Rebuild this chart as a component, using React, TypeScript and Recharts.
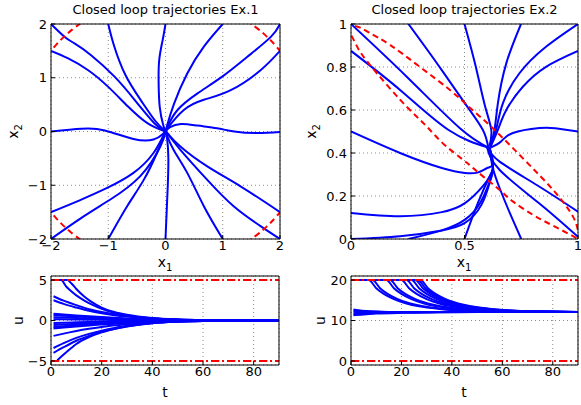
import React from 'react';
import { LineChart, Line, XAxis, YAxis, CartesianGrid, ReferenceLine } from 'recharts';

const W = 581;
const H = 405;
const FONT = '"DejaVu Sans", "Liberation Sans", Arial, sans-serif';
const BLUE = '#0000ff';
const RED = '#ff0000';

type Pt = [number, number];

// ---- Ex.1 phase plane (x1, x2) ----
const ex1A: Pt[] = [[-2, 2], [-1.76, 1.76], [-1.59, 1.64], [-1.3, 1.42], [-0.89, 1.02], [-0.54, 0.59], [-0.19, 0.15], [0, 0]];
const ex1B: Pt[] = [[-2, 1.5], [-1.7, 1.36], [-1.35, 1.14], [-1.0, 0.83], [-0.65, 0.46], [-0.31, 0.15], [0, 0]];
const ex1C: Pt[] = [[-1, 2], [-0.9, 1.6], [-0.7, 1.05], [-0.43, 0.58], [-0.18, 0.2], [0, 0]];
const ex1D: Pt[] = [[0, 2], [-0.05, 1.7], [-0.11, 1.33], [-0.12, 0.9], [-0.1, 0.45], [-0.04, 0.12], [0, 0]];
const ex1E: Pt[] = [[1, 2], [0.67, 1.58], [0.38, 1.08], [0.15, 0.52], [0.03, 0.12], [0, 0]];
const ex1F: Pt[] = [[2, 2], [1.84, 1.76], [1.43, 1.39], [0.99, 1.02], [0.56, 0.71], [0.21, 0.4], [0.04, 0.1], [0, 0]];
const ex1G: Pt[] = [[2, 1.5], [1.66, 1.14], [1.14, 0.77], [0.67, 0.59], [0.32, 0.4], [0.05, 0.08], [0, 0]];
const ex1H: Pt[] = [[2, -0.01], [1.6, -0.03], [1.2, 0.0], [0.9, 0.06], [0.56, 0.11], [0.27, 0.14], [0.08, 0.08], [0, 0]];
const ex1I: Pt[] = [[-2, 0.0], [-1.47, 0.05], [-1.06, 0.02], [-0.56, -0.14], [-0.21, -0.15], [-0.05, -0.05], [0, 0]];
const ex1J: Pt[] = [[2, -2], [1.66, -1.76], [1.19, -1.39], [0.73, -0.9], [0.26, -0.34], [0.05, -0.06], [0, 0]];
const ex1K: Pt[] = [[2, -1.5], [1.31, -1.02], [0.73, -0.65], [0.26, -0.28], [0.05, -0.05], [0, 0]];
const ex1L: Pt[] = [[1, -2], [0.67, -1.39], [0.38, -0.77], [0.14, -0.34], [0.02, -0.06], [0, 0]];
const ex1M: Pt[] = [[0, -2], [0.02, -1.5], [0.04, -1.0], [0.05, -0.5], [0.03, -0.15], [0, 0]];
const ex1N: Pt[] = [[-1, -2], [-0.67, -1.39], [-0.38, -0.9], [-0.15, -0.4], [-0.03, -0.08], [0, 0]];
const ex1O: Pt[] = [[-2, -2], [-1.43, -1.58], [-0.97, -1.27], [-0.44, -0.83], [-0.09, -0.28], [0, 0]];
const ex1P: Pt[] = [[-2, -1.5], [-1.5, -1.28], [-1.02, -1.05], [-0.56, -0.77], [-0.21, -0.4], [-0.03, -0.06], [0, 0]];
const ex1Traj = [ex1A, ex1B, ex1C, ex1D, ex1E, ex1F, ex1G, ex1H, ex1I, ex1J, ex1K, ex1L, ex1M, ex1N, ex1O, ex1P];

// constraint circle, only the corners show
const ex1ArcTL: Pt[] = [[-2.06, 1.42], [-2, 1.5], [-1.9, 1.625], [-1.77, 1.765], [-1.625, 1.9], [-1.5, 2], [-1.42, 2.06]];
const ex1ArcTR: Pt[] = [[1.42, 2.06], [1.5, 2], [1.625, 1.9], [1.77, 1.765], [1.9, 1.625], [2, 1.5], [2.06, 1.42]];
const ex1ArcBL: Pt[] = [[-2.06, -1.42], [-2, -1.5], [-1.9, -1.625], [-1.77, -1.765], [-1.625, -1.9], [-1.5, -2], [-1.42, -2.06]];
const ex1ArcBR: Pt[] = [[1.42, -2.06], [1.5, -2], [1.625, -1.9], [1.77, -1.765], [1.9, -1.625], [2, -1.5], [2.06, -1.42]];
const ex1Bound = [ex1ArcTL, ex1ArcTR, ex1ArcBL, ex1ArcBR];

// ---- Ex.2 phase plane ----
const ex2a: Pt[] = [[0, 1], [0.25, 0.75], [0.48, 0.515], [0.605, 0.425]];
const ex2b: Pt[] = [[0, 0.875], [0.22, 0.69], [0.43, 0.507], [0.605, 0.425]];
const ex2c: Pt[] = [[0.253, 1], [0.38, 0.815], [0.502, 0.631], [0.581, 0.507], [0.605, 0.425]];
const ex2d: Pt[] = [[0.5, 1], [0.55, 0.8], [0.59, 0.62], [0.618, 0.507], [0.61, 0.43]];
const ex2e: Pt[] = [[0.749, 1], [0.684, 0.817], [0.647, 0.631], [0.632, 0.507], [0.612, 0.43]];
const ex2f: Pt[] = [[1, 1], [0.859, 0.894], [0.742, 0.771], [0.669, 0.631], [0.639, 0.507], [0.614, 0.43]];
const ex2g: Pt[] = [[1, 0.875], [0.859, 0.801], [0.757, 0.708], [0.684, 0.6], [0.647, 0.507], [0.615, 0.43]];
const ex2h: Pt[] = [[1, 0.5], [0.9, 0.515], [0.83, 0.516], [0.713, 0.493], [0.661, 0.454], [0.615, 0.425]];
const ex2i: Pt[] = [[1, 0.127], [0.82, 0.25], [0.655, 0.36], [0.6, 0.425]];
const ex2j: Pt[] = [[1, 0.01], [0.83, 0.165], [0.655, 0.321], [0.6, 0.425]];
const ex2k: Pt[] = [[0.75, 0], [0.7, 0.12], [0.655, 0.236], [0.625, 0.33], [0.61, 0.425]];
const ex2l: Pt[] = [[0.5, 0], [0.56, 0.17], [0.615, 0.3], [0.625, 0.34], [0.61, 0.425]];
const ex2m: Pt[] = [[0.253, 0], [0.4, 0.04], [0.502, 0.09], [0.57, 0.17], [0.612, 0.27], [0.625, 0.33], [0.61, 0.425]];
const ex2n: Pt[] = [[0, 0], [0.216, 0.013], [0.4, 0.04], [0.502, 0.075], [0.575, 0.16], [0.613, 0.27], [0.625, 0.33], [0.61, 0.425]];
const ex2o: Pt[] = [[0, 0.121], [0.216, 0.106], [0.4, 0.125], [0.502, 0.167], [0.58, 0.245], [0.625, 0.33], [0.61, 0.425]];
const ex2p: Pt[] = [[0, 0.5], [0.216, 0.4], [0.4, 0.33], [0.502, 0.307], [0.56, 0.31], [0.6, 0.33], [0.625, 0.35], [0.61, 0.425]];
const ex2Traj = [ex2a, ex2b, ex2c, ex2d, ex2e, ex2f, ex2g, ex2h, ex2i, ex2j, ex2k, ex2l, ex2m, ex2n, ex2o, ex2p];

const ex2Ellipse: Pt[] = [
  [-0.02, 0.968], [0.02, 0.99], [0.08, 0.96], [0.173, 0.902], [0.304, 0.8], [0.436, 0.693], [0.53, 0.605],
  [0.625, 0.515], [0.765, 0.367], [0.897, 0.22], [0.978, 0.104], [1.0, 0.04], [1.01, 0.0], [0.98, 0.012],
  [0.89, 0.062], [0.802, 0.112], [0.714, 0.174], [0.655, 0.228], [0.583, 0.29], [0.539, 0.329], [0.493, 0.369],
  [0.41, 0.44], [0.341, 0.515], [0.29, 0.569], [0.217, 0.647], [0.114, 0.771], [0.04, 0.871], [0.005, 0.94], [-0.02, 0.968],
];

// ---- Ex.1 input u(t) ----
const u1a: Pt[] = [[2, 5], [6.5, 5], [8, 4.6], [10, 3.9], [13, 3.0], [16, 2.3], [20, 1.6], [25, 1.05], [30, 0.7], [40, 0.3], [50, 0.13], [60, 0.05], [75, 0.01], [90, 0]];
const u1b: Pt[] = [[2, 5], [4, 5], [6, 4.2], [8, 3.6], [10, 3.1], [13, 2.5], [16, 2.0], [20, 1.45], [25, 0.95], [30, 0.62], [40, 0.27], [50, 0.11], [60, 0.04], [75, 0.01], [90, 0]];
const u1c: Pt[] = [[1, 3.0], [5, 2.45], [10, 1.9], [15, 1.4], [20, 1.05], [25, 0.78], [30, 0.56], [40, 0.26], [50, 0.11], [60, 0.04], [75, 0.01], [90, 0]];
const u1d: Pt[] = [[1, 2.5], [5, 2.05], [10, 1.6], [15, 1.2], [20, 0.9], [25, 0.66], [30, 0.48], [40, 0.23], [50, 0.1], [60, 0.04], [75, 0.01], [90, 0]];
const u1e: Pt[] = [[1, 0.85], [5, 0.75], [10, 0.63], [15, 0.52], [20, 0.42], [30, 0.26], [40, 0.14], [50, 0.07], [60, 0.03], [75, 0.01], [90, 0]];
const u1f: Pt[] = [[1, 0.65], [5, 0.58], [10, 0.49], [15, 0.41], [20, 0.33], [30, 0.2], [40, 0.11], [50, 0.05], [60, 0.02], [75, 0.01], [90, 0]];
const u1g: Pt[] = [[1, 0.4], [5, 0.36], [10, 0.31], [15, 0.26], [20, 0.21], [30, 0.13], [40, 0.07], [50, 0.03], [60, 0.01], [90, 0]];
const u1h: Pt[] = [[1, 0.15], [5, 0.14], [10, 0.12], [15, 0.1], [20, 0.08], [30, 0.05], [40, 0.03], [50, 0.01], [90, 0]];
const u1i: Pt[] = [[1, -0.3], [5, -0.27], [10, -0.23], [15, -0.19], [20, -0.16], [30, -0.1], [40, -0.05], [50, -0.02], [60, -0.01], [90, 0]];
const u1j: Pt[] = [[1, -0.55], [5, -0.49], [10, -0.42], [15, -0.35], [20, -0.28], [30, -0.17], [40, -0.09], [50, -0.04], [60, -0.02], [75, 0], [90, 0]];
const u1k: Pt[] = [[1, -0.8], [5, -0.71], [10, -0.6], [15, -0.5], [20, -0.4], [30, -0.25], [40, -0.13], [50, -0.06], [60, -0.03], [75, -0.01], [90, 0]];
const u1l: Pt[] = [[1, -1.0], [5, -0.88], [10, -0.74], [15, -0.61], [20, -0.5], [30, -0.3], [40, -0.16], [50, -0.07], [60, -0.03], [75, -0.01], [90, 0]];
const u1m: Pt[] = [[1, -1.9], [5, -1.62], [10, -1.3], [15, -1.03], [20, -0.8], [25, -0.6], [30, -0.45], [40, -0.22], [50, -0.1], [60, -0.04], [75, -0.01], [90, 0]];
const u1n: Pt[] = [[1, -3.4], [5, -2.8], [10, -2.15], [15, -1.65], [20, -1.25], [25, -0.92], [30, -0.66], [40, -0.3], [50, -0.13], [60, -0.05], [75, -0.01], [90, 0]];
const u1o: Pt[] = [[1, -4.0], [5, -3.3], [10, -2.5], [15, -1.9], [20, -1.4], [25, -1.02], [30, -0.72], [40, -0.32], [50, -0.14], [60, -0.05], [75, -0.01], [90, 0]];
const u1p: Pt[] = [[2.5, -4.9], [5, -4.2], [8, -3.4], [10, -2.9], [15, -2.05], [20, -1.45], [25, -1.05], [30, -0.74], [40, -0.33], [50, -0.14], [60, -0.05], [75, -0.01], [90, 0]];
const u1Traj = [u1a, u1b, u1c, u1d, u1e, u1f, u1g, u1h, u1i, u1j, u1k, u1l, u1m, u1n, u1o, u1p];
const u1Limits = [-5, 5];

// ---- Ex.2 input u(t) ----
const u2a: Pt[] = [[1, 20], [7, 20], [10, 18], [13, 16.6], [17, 15.3], [22, 14.2], [27, 13.5], [35, 12.85], [45, 12.4], [57, 12.2], [70, 12.12], [90, 12.1]];
const u2b: Pt[] = [[1, 20], [8.5, 20], [11.5, 18], [14.5, 16.6], [18.5, 15.3], [23.5, 14.2], [28.5, 13.5], [36.5, 12.85], [46.5, 12.4], [58.5, 12.2], [71.5, 12.12], [90, 12.1]];
const u2c: Pt[] = [[1, 20], [14, 20], [17, 18], [20, 16.6], [24, 15.3], [29, 14.2], [34, 13.5], [42, 12.85], [52, 12.4], [64, 12.2], [77, 12.12], [90, 12.1]];
const u2d: Pt[] = [[1, 20], [15.5, 20], [18.5, 18], [21.5, 16.6], [25.5, 15.3], [30.5, 14.2], [35.5, 13.5], [43.5, 12.85], [53.5, 12.4], [65.5, 12.2], [78.5, 12.12], [90, 12.1]];
const u2e: Pt[] = [[1, 20], [20, 20], [23, 18], [26, 16.6], [30, 15.3], [35, 14.2], [40, 13.5], [48, 12.85], [58, 12.4], [70, 12.2], [83, 12.12], [90, 12.1]];
const u2f: Pt[] = [[1, 20], [22, 20], [25, 18], [28, 16.6], [32, 15.3], [37, 14.2], [42, 13.5], [50, 12.85], [60, 12.4], [72, 12.2], [85, 12.12], [90, 12.11]];
const u2g: Pt[] = [[1, 20], [24, 20], [27, 18], [30, 16.6], [34, 15.3], [39, 14.2], [44, 13.5], [52, 12.85], [62, 12.4], [74, 12.2], [87, 12.12], [90, 12.11]];
const u2h: Pt[] = [[1, 20], [25.5, 20], [28.5, 18], [31.5, 16.6], [35.5, 15.3], [40.5, 14.2], [45.5, 13.5], [53.5, 12.85], [63.5, 12.4], [75.5, 12.2], [90, 12.12]];
const u2i: Pt[] = [[1, 20], [26.5, 20], [29.5, 18], [32.5, 16.6], [36.5, 15.3], [41.5, 14.2], [46.5, 13.5], [54.5, 12.85], [64.5, 12.4], [76.5, 12.2], [90, 12.12]];
const u2j: Pt[] = [[1, 20], [27.5, 20], [30.5, 18], [33.5, 16.6], [37.5, 15.3], [42.5, 14.2], [47.5, 13.5], [55.5, 12.85], [65.5, 12.4], [77.5, 12.2], [90, 12.13]];
const u2k: Pt[] = [[1, 12.75], [3, 12.55], [6, 12.35], [10, 12.2], [15, 12.13], [25, 12.1], [90, 12.1]];
const u2l: Pt[] = [[1, 12.5], [3, 12.38], [6, 12.25], [10, 12.16], [15, 12.12], [25, 12.1], [90, 12.1]];
const u2m: Pt[] = [[1, 12.25], [4, 12.18], [10, 12.12], [20, 12.1], [90, 12.1]];
const u2n: Pt[] = [[1, 11.8], [4, 11.9], [10, 12.0], [20, 12.07], [35, 12.1], [90, 12.1]];
const u2o: Pt[] = [[1, 11.5], [4, 11.65], [10, 11.85], [20, 11.98], [35, 12.06], [52, 12.1], [90, 12.1]];
const u2p: Pt[] = [[1, 11.3], [4, 11.45], [10, 11.7], [20, 11.9], [35, 12.02], [52, 12.08], [90, 12.1]];
const u2Traj = [u2a, u2b, u2c, u2d, u2e, u2f, u2g, u2h, u2i, u2j, u2k, u2l, u2m, u2n, u2o, u2p];
const u2Limits = [0, 20];

const ex1Ticks = [-2, -1, 0, 1, 2];
const ex2XTicks = [0, 0.5, 1];
const ex2YTicks = [0, 0.2, 0.4, 0.6, 0.8, 1];
const tTicks = [0, 20, 40, 60, 80];
const u1Ticks = [-5, 0, 5];
const u2Ticks = [0, 10, 20];

const rows = (pts: Pt[]) => pts.map(([x, y]) => ({ x, y }));
const fmt = (v: number) => String(v).replace('-', '\u2212');

type Box = { x0: number; x1: number; y0: number; y1: number };

function Panel(props: {
  box: Box;
  xDomain: [number, number];
  yDomain: [number, number];
  xTicks: number[];
  yTicks: number[];
  blue: Pt[][];
  red?: Pt[][];
  limits?: number[];
  curve: 'natural' | 'monotone';
}) {
  const { box, xDomain, yDomain, xTicks, yTicks, blue, red = [], limits = [], curve } = props;
  // axes are 1px thick bands (recharts skips axes of size 0)
  const margin = { left: box.x0 - 1, right: W - box.x1 - 1, top: box.y0 - 1, bottom: H - box.y1 - 1 };
  const tickStyle = { fill: '#000', fontSize: 13, fontFamily: FONT };
  return (
    <div style={{ position: 'absolute', left: 0, top: 0 }}>
      <LineChart width={W} height={H} margin={margin}>
        <CartesianGrid xAxisId="b" yAxisId="l" stroke="#8c8c8c" strokeDasharray="1 3" />
        <XAxis xAxisId="b" dataKey="x" type="number" domain={xDomain} ticks={xTicks} interval={0}
          allowDataOverflow height={1} tickSize={-4} tickMargin={6} stroke="#000" tick={tickStyle} tickFormatter={fmt} />
        <XAxis xAxisId="t" orientation="top" dataKey="x" type="number" domain={xDomain} ticks={xTicks} interval={0}
          allowDataOverflow height={1} tickSize={-4} stroke="#000" tick={false} />
        <YAxis yAxisId="l" dataKey="y" type="number" domain={yDomain} ticks={yTicks} interval={0}
          allowDataOverflow width={1} tickSize={-4} tickMargin={8} stroke="#000" tick={tickStyle} tickFormatter={fmt} />
        <YAxis yAxisId="r" orientation="right" dataKey="y" type="number" domain={yDomain} ticks={yTicks} interval={0}
          allowDataOverflow width={1} tickSize={-4} stroke="#000" tick={false} />
        {blue.map((pts, i) => (
          <Line key={'b' + i} xAxisId="b" yAxisId="l" data={rows(pts)} dataKey="y" type={curve}
            stroke={BLUE} strokeWidth={2} dot={false} activeDot={false} isAnimationActive={false} />
        ))}
        {red.map((pts, i) => (
          <Line key={'r' + i} xAxisId="b" yAxisId="l" data={rows(pts)} dataKey="y" type="natural"
            stroke={RED} strokeWidth={2} strokeDasharray="6 4" dot={false} activeDot={false} isAnimationActive={false} />
        ))}
        {limits.map((v) => (
          <ReferenceLine key={'lim' + v} xAxisId="b" yAxisId="l" y={v} stroke={RED} strokeWidth={2}
            strokeDasharray="8 3 2 3" />
        ))}
      </LineChart>
    </div>
  );
}

function Sub({ x, y, main, sub, rotate }: { x: number; y: number; main: string; sub?: string; rotate?: boolean }) {
  return (
    <text transform={`translate(${x},${y})${rotate ? ' rotate(-90)' : ''}`} textAnchor="middle"
      fontSize={14} fontFamily={FONT} fill="#000">
      {main}
      {sub && <tspan dy={4} fontSize={10}>{sub}</tspan>}
    </text>
  );
}

export default function App() {
  const tl: Box = { x0: 51, x1: 280, y0: 24, y1: 239 };
  const tr: Box = { x0: 351, x1: 578, y0: 24, y1: 239 };
  const bl: Box = { x0: 51, x1: 279, y0: 276, y1: 365 };
  const br: Box = { x0: 351, x1: 578, y0: 276, y1: 365 };
  return (
    <div style={{ position: 'absolute', left: 0, top: 0, width: W, height: H, background: '#fff' }}>
      <Panel box={tl} xDomain={[-2, 2]} yDomain={[-2, 2]} xTicks={ex1Ticks} yTicks={ex1Ticks}
        blue={ex1Traj} red={ex1Bound} curve="natural" />
      <Panel box={tr} xDomain={[0, 1]} yDomain={[0, 1]} xTicks={ex2XTicks} yTicks={ex2YTicks}
        blue={ex2Traj} red={[ex2Ellipse]} curve="natural" />
      <Panel box={bl} xDomain={[0, 90]} yDomain={[-5.5, 5.5]} xTicks={tTicks} yTicks={u1Ticks}
        blue={u1Traj} limits={u1Limits} curve="monotone" />
      <Panel box={br} xDomain={[0, 90]} yDomain={[-1, 21]} xTicks={tTicks} yTicks={u2Ticks}
        blue={u2Traj} limits={u2Limits} curve="monotone" />
      <svg width={W} height={H} style={{ position: 'absolute', left: 0, top: 0 }}>
        <text x={165.5} y={14} textAnchor="middle" fontSize={13} fontFamily={FONT} fill="#000">
          Closed loop trajectories Ex.1
        </text>
        <text x={464.5} y={14} textAnchor="middle" fontSize={13} fontFamily={FONT} fill="#000">
          Closed loop trajectories Ex.2
        </text>
        <Sub x={165} y={267} main="x" sub="1" />
        <Sub x={464} y={267} main="x" sub="1" />
        <Sub x={18} y={131.5} main="x" sub="2" rotate />
        <Sub x={316} y={131.5} main="x" sub="2" rotate />
        <Sub x={165} y={397} main="t" />
        <Sub x={464} y={397} main="t" />
        <Sub x={23} y={320.5} main="u" rotate />
        <Sub x={325} y={320.5} main="u" rotate />
      </svg>
    </div>
  );
}
